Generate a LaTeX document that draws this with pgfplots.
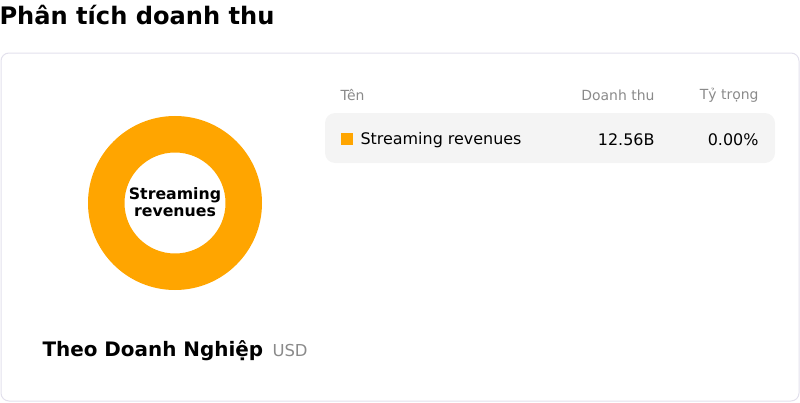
\documentclass[border=0pt]{standalone}
\usepackage{fontspec}
\setmainfont{DejaVu Sans}
\usepackage{pgfplots}
\usepackage{pgfplotstable}
\pgfplotsset{compat=1.18}

\definecolor{slice}{HTML}{FFA500}
\definecolor{cardline}{HTML}{E2E0EC}
\definecolor{rowbg}{HTML}{F4F4F4}
\definecolor{muted}{HTML}{8A8A8A}

% segment, revenue (billion USD)
\pgfplotstableread[col sep=comma]{
name,value
Streaming revenues,12.56
}\revtable

\begin{document}
\begin{tikzpicture}[x=1bp,y=1bp]
\path[use as bounding box] (0,0) rectangle (800,402);

% title and card
\node[anchor=west,font=\bfseries\fontsize{24.2}{28}\selectfont] at (-4,387) {Phân tích doanh thu};
\draw[cardline,line width=1bp,rounded corners=8bp] (1,1) rectangle (799,349);

% table header and row
\node[anchor=west,text=muted,font=\fontsize{14}{16}\selectfont] at (337,307) {Tên};
\node[anchor=east,text=muted,font=\fontsize{14}{16}\selectfont] at (658,307) {Doanh thu};
\node[anchor=east,text=muted,font=\fontsize{14}{16}\selectfont] at (762,307) {Tỷ trọng};
\fill[rowbg,rounded corners=10bp] (325,239) rectangle (775,289);
\fill[slice] (341,257) rectangle (353,269);
\node[anchor=west,font=\fontsize{16}{19}\selectfont] at (357,262) {Streaming revenues};
\node[anchor=east,font=\fontsize{16}{19}\selectfont] at (658,262) {12.56B};
\node[anchor=east,font=\fontsize{16}{19}\selectfont] at (762,262) {0.00\%};

% footer
\node[anchor=west,font=\bfseries\fontsize{20}{24}\selectfont] at (39,51) {Theo Doanh Nghiệp};
\node[anchor=west,text=muted,font=\fontsize{16.5}{19}\selectfont] at (269,51) {USD};

% donut
\pgfplotstablegetelem{0}{value}\of\revtable
\begin{axis}[
  at={(175bp,199bp)}, anchor=center,
  width=174bp, height=174bp, scale only axis,
  xmin=-1, xmax=1, ymin=-1, ymax=1,
  hide axis, clip=false,
]
\addplot[draw=none] table[x expr=0, y expr=0, col sep=comma] {\revtable};
\fill[slice,even odd rule]
  (axis cs:0,0) circle[radius=87bp]
  (axis cs:0,0) circle[radius=50.5bp];
\node[align=center,font=\bfseries\fontsize{15.8}{17}\selectfont] at (axis cs:0,0.015) {Streaming\\revenues};
\end{axis}
\end{tikzpicture}
\end{document}
